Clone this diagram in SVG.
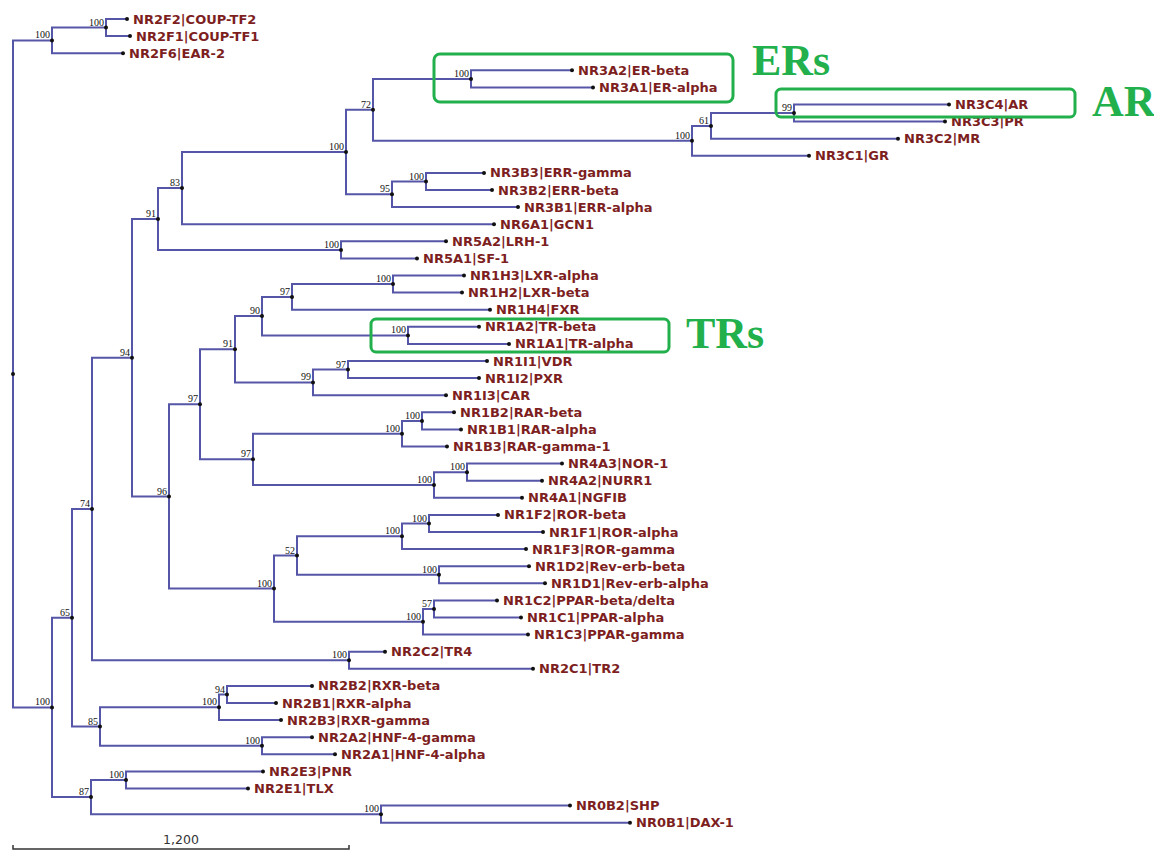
<svg xmlns="http://www.w3.org/2000/svg" width="1154" height="852" viewBox="0 0 1154 852">
<style>
.br{fill:none;stroke:#5656a8;stroke-width:2}
.dot{fill:#111}
.lf{font-family:"DejaVu Sans",sans-serif;font-weight:bold;font-size:13px;fill:#7d1f1f}
.bs{font-family:"Liberation Serif",serif;font-size:10px;fill:#111;text-anchor:end}
.box{fill:none;stroke:#22b04c;stroke-width:3}
.big{font-family:"Liberation Serif",serif;font-weight:bold;font-size:44px;fill:#22b04c}
.scale{fill:none;stroke:#333;stroke-width:1.5}
.sc{font-family:"DejaVu Sans",sans-serif;font-size:12.5px;fill:#333;text-anchor:middle}
</style>
<rect width="1154" height="852" fill="#fff"/>
<g id="connectors" class="br">
<path d="M127,19 H106 V36.1 H130"/>
<path d="M106,27.6 H52 V53.2 H123"/>
<path d="M572,70.3 H471 V87.4 H593"/>
<path d="M949,104.5 H794 V121.6 H945"/>
<path d="M794,113.1 H711 V138.7 H898"/>
<path d="M711,125.9 H692 V155.8 H809"/>
<path d="M471,78.9 H373 V140.8 H692"/>
<path d="M484,172.9 H426 V190 H492"/>
<path d="M426,181.5 H392 V207.1 H518"/>
<path d="M373,109.8 H346 V194.3 H392"/>
<path d="M346,152.1 H182 V224.2 H494"/>
<path d="M446,241.3 H341 V258.4 H417"/>
<path d="M182,188.1 H158 V249.9 H341"/>
<path d="M464,275.5 H393 V292.6 H462"/>
<path d="M393,284.1 H292 V309.7 H490"/>
<path d="M479,326.8 H408 V343.9 H509"/>
<path d="M292,296.9 H262 V335.4 H408"/>
<path d="M487,361 H348 V378.1 H479"/>
<path d="M348,369.6 H313 V395.2 H446"/>
<path d="M262,316.1 H235 V382.4 H313"/>
<path d="M454,412.3 H422 V429.4 H461"/>
<path d="M422,420.9 H402 V446.5 H447"/>
<path d="M562,463.6 H467 V480.7 H542"/>
<path d="M467,472.2 H434 V497.8 H522"/>
<path d="M402,433.7 H253 V485 H434"/>
<path d="M235,349.2 H200 V459.3 H253"/>
<path d="M498,514.9 H429 V532 H543"/>
<path d="M429,523.5 H402 V549.1 H526"/>
<path d="M529,566.2 H439 V583.3 H545"/>
<path d="M402,536.3 H297 V574.8 H439"/>
<path d="M497,600.4 H434 V617.5 H521"/>
<path d="M434,609 H423 V634.6 H528"/>
<path d="M297,555.5 H274 V621.8 H423"/>
<path d="M200,404.3 H169 V588.6 H274"/>
<path d="M158,219 H132 V496.5 H169"/>
<path d="M385,651.7 H349 V668.8 H533"/>
<path d="M132,357.7 H92 V660.3 H349"/>
<path d="M312,685.9 H227 V703 H276"/>
<path d="M227,694.5 H219 V720.1 H281"/>
<path d="M312,737.2 H262 V754.3 H335"/>
<path d="M219,707.3 H100 V745.8 H262"/>
<path d="M92,509 H72 V726.5 H100"/>
<path d="M263,771.4 H126 V788.5 H248"/>
<path d="M570,805.6 H381 V822.7 H630"/>
<path d="M126,780 H91 V814.2 H381"/>
<path d="M72,617.8 H52 V797.1 H91"/>
<path d="M52,40.4 H13 V707.4 H52"/>
</g>
<g id="internal-nodes">
<g id="root"><circle class="dot" cx="13" cy="373.9" r="2"/></g>
<g id="n-F21"><circle class="dot" cx="106" cy="27.6" r="2"/><text class="bs" x="104" y="25.6">100</text></g>
<g id="n-F"><circle class="dot" cx="52" cy="40.4" r="2"/><text class="bs" x="50" y="38.4">100</text></g>
<g id="n-ER"><circle class="dot" cx="471" cy="78.9" r="2"/><text class="bs" x="469" y="76.9">100</text></g>
<g id="n-C99"><circle class="dot" cx="794" cy="113.1" r="2"/><text class="bs" x="792" y="111.1">99</text></g>
<g id="n-C61"><circle class="dot" cx="711" cy="125.9" r="2"/><text class="bs" x="709" y="123.9">61</text></g>
<g id="n-C"><circle class="dot" cx="692" cy="140.8" r="2"/><text class="bs" x="690" y="138.8">100</text></g>
<g id="n-72"><circle class="dot" cx="373" cy="109.8" r="2"/><text class="bs" x="371" y="107.8">72</text></g>
<g id="n-ERR"><circle class="dot" cx="426" cy="181.5" r="2"/><text class="bs" x="424" y="179.5">100</text></g>
<g id="n-95"><circle class="dot" cx="392" cy="194.3" r="2"/><text class="bs" x="390" y="192.3">95</text></g>
<g id="n-NR3"><circle class="dot" cx="346" cy="152.1" r="2"/><text class="bs" x="344" y="150.1">100</text></g>
<g id="n-83"><circle class="dot" cx="182" cy="188.1" r="2"/><text class="bs" x="180" y="186.1">83</text></g>
<g id="n-NR5A"><circle class="dot" cx="341" cy="249.9" r="2"/><text class="bs" x="339" y="247.9">100</text></g>
<g id="n-91"><circle class="dot" cx="158" cy="219" r="2"/><text class="bs" x="156" y="217">91</text></g>
<g id="n-LXR"><circle class="dot" cx="393" cy="284.1" r="2"/><text class="bs" x="391" y="282.1">100</text></g>
<g id="n-97c"><circle class="dot" cx="292" cy="296.9" r="2"/><text class="bs" x="290" y="294.9">97</text></g>
<g id="n-TR"><circle class="dot" cx="408" cy="335.4" r="2"/><text class="bs" x="406" y="333.4">100</text></g>
<g id="n-90"><circle class="dot" cx="262" cy="316.1" r="2"/><text class="bs" x="260" y="314.1">90</text></g>
<g id="n-97d"><circle class="dot" cx="348" cy="369.6" r="2"/><text class="bs" x="346" y="367.6">97</text></g>
<g id="n-99b"><circle class="dot" cx="313" cy="382.4" r="2"/><text class="bs" x="311" y="380.4">99</text></g>
<g id="n-91b"><circle class="dot" cx="235" cy="349.2" r="2"/><text class="bs" x="233" y="347.2">91</text></g>
<g id="n-RARba"><circle class="dot" cx="422" cy="420.9" r="2"/><text class="bs" x="420" y="418.9">100</text></g>
<g id="n-RAR"><circle class="dot" cx="402" cy="433.7" r="2"/><text class="bs" x="400" y="431.7">100</text></g>
<g id="n-NR4A32"><circle class="dot" cx="467" cy="472.2" r="2"/><text class="bs" x="465" y="470.2">100</text></g>
<g id="n-NR4A"><circle class="dot" cx="434" cy="485" r="2"/><text class="bs" x="432" y="483">100</text></g>
<g id="n-97b"><circle class="dot" cx="253" cy="459.3" r="2"/><text class="bs" x="251" y="457.3">97</text></g>
<g id="n-97a"><circle class="dot" cx="200" cy="404.3" r="2"/><text class="bs" x="198" y="402.3">97</text></g>
<g id="n-RORba"><circle class="dot" cx="429" cy="523.5" r="2"/><text class="bs" x="427" y="521.5">100</text></g>
<g id="n-ROR"><circle class="dot" cx="402" cy="536.3" r="2"/><text class="bs" x="400" y="534.3">100</text></g>
<g id="n-Rev"><circle class="dot" cx="439" cy="574.8" r="2"/><text class="bs" x="437" y="572.8">100</text></g>
<g id="n-52"><circle class="dot" cx="297" cy="555.5" r="2"/><text class="bs" x="295" y="553.5">52</text></g>
<g id="n-57"><circle class="dot" cx="434" cy="609" r="2"/><text class="bs" x="432" y="607">57</text></g>
<g id="n-PPAR"><circle class="dot" cx="423" cy="621.8" r="2"/><text class="bs" x="421" y="619.8">100</text></g>
<g id="n-100c"><circle class="dot" cx="274" cy="588.6" r="2"/><text class="bs" x="272" y="586.6">100</text></g>
<g id="n-96"><circle class="dot" cx="169" cy="496.5" r="2"/><text class="bs" x="167" y="494.5">96</text></g>
<g id="n-94"><circle class="dot" cx="132" cy="357.7" r="2"/><text class="bs" x="130" y="355.7">94</text></g>
<g id="n-NR2C"><circle class="dot" cx="349" cy="660.3" r="2"/><text class="bs" x="347" y="658.3">100</text></g>
<g id="n-74"><circle class="dot" cx="92" cy="509" r="2"/><text class="bs" x="90" y="507">74</text></g>
<g id="n-94b"><circle class="dot" cx="227" cy="694.5" r="2"/><text class="bs" x="225" y="692.5">94</text></g>
<g id="n-RXR"><circle class="dot" cx="219" cy="707.3" r="2"/><text class="bs" x="217" y="705.3">100</text></g>
<g id="n-HNF"><circle class="dot" cx="262" cy="745.8" r="2"/><text class="bs" x="260" y="743.8">100</text></g>
<g id="n-85"><circle class="dot" cx="100" cy="726.5" r="2"/><text class="bs" x="98" y="724.5">85</text></g>
<g id="n-65"><circle class="dot" cx="72" cy="617.8" r="2"/><text class="bs" x="70" y="615.8">65</text></g>
<g id="n-NR2E"><circle class="dot" cx="126" cy="780" r="2"/><text class="bs" x="124" y="778">100</text></g>
<g id="n-NR0B"><circle class="dot" cx="381" cy="814.2" r="2"/><text class="bs" x="379" y="812.2">100</text></g>
<g id="n-87"><circle class="dot" cx="91" cy="797.1" r="2"/><text class="bs" x="89" y="795.1">87</text></g>
<g id="n-B100"><circle class="dot" cx="52" cy="707.4" r="2"/><text class="bs" x="50" y="705.4">100</text></g>
</g>
<g id="leaves">
<g id="NR2F2"><circle class="dot" cx="127" cy="19" r="2"/><text class="lf" x="133" y="23.5">NR2F2|COUP-TF2</text></g>
<g id="NR2F1"><circle class="dot" cx="130" cy="36.1" r="2"/><text class="lf" x="136" y="40.6">NR2F1|COUP-TF1</text></g>
<g id="NR2F6"><circle class="dot" cx="123" cy="53.2" r="2"/><text class="lf" x="129" y="57.7">NR2F6|EAR-2</text></g>
<g id="NR3A2"><circle class="dot" cx="572" cy="70.3" r="2"/><text class="lf" x="578" y="74.8">NR3A2|ER-beta</text></g>
<g id="NR3A1"><circle class="dot" cx="593" cy="87.4" r="2"/><text class="lf" x="599" y="91.9">NR3A1|ER-alpha</text></g>
<g id="NR3C4"><circle class="dot" cx="949" cy="104.5" r="2"/><text class="lf" x="955" y="109">NR3C4|AR</text></g>
<g id="NR3C3"><circle class="dot" cx="945" cy="121.6" r="2"/><text class="lf" x="951" y="126.1">NR3C3|PR</text></g>
<g id="NR3C2"><circle class="dot" cx="898" cy="138.7" r="2"/><text class="lf" x="904" y="143.2">NR3C2|MR</text></g>
<g id="NR3C1"><circle class="dot" cx="809" cy="155.8" r="2"/><text class="lf" x="815" y="160.3">NR3C1|GR</text></g>
<g id="NR3B3"><circle class="dot" cx="484" cy="172.9" r="2"/><text class="lf" x="490" y="177.4">NR3B3|ERR-gamma</text></g>
<g id="NR3B2"><circle class="dot" cx="492" cy="190" r="2"/><text class="lf" x="498" y="194.5">NR3B2|ERR-beta</text></g>
<g id="NR3B1"><circle class="dot" cx="518" cy="207.1" r="2"/><text class="lf" x="524" y="211.6">NR3B1|ERR-alpha</text></g>
<g id="NR6A1"><circle class="dot" cx="494" cy="224.2" r="2"/><text class="lf" x="500" y="228.7">NR6A1|GCN1</text></g>
<g id="NR5A2"><circle class="dot" cx="446" cy="241.3" r="2"/><text class="lf" x="452" y="245.8">NR5A2|LRH-1</text></g>
<g id="NR5A1"><circle class="dot" cx="417" cy="258.4" r="2"/><text class="lf" x="423" y="262.9">NR5A1|SF-1</text></g>
<g id="NR1H3"><circle class="dot" cx="464" cy="275.5" r="2"/><text class="lf" x="470" y="280">NR1H3|LXR-alpha</text></g>
<g id="NR1H2"><circle class="dot" cx="462" cy="292.6" r="2"/><text class="lf" x="468" y="297.1">NR1H2|LXR-beta</text></g>
<g id="NR1H4"><circle class="dot" cx="490" cy="309.7" r="2"/><text class="lf" x="496" y="314.2">NR1H4|FXR</text></g>
<g id="NR1A2"><circle class="dot" cx="479" cy="326.8" r="2"/><text class="lf" x="485" y="331.3">NR1A2|TR-beta</text></g>
<g id="NR1A1"><circle class="dot" cx="509" cy="343.9" r="2"/><text class="lf" x="515" y="348.4">NR1A1|TR-alpha</text></g>
<g id="NR1I1"><circle class="dot" cx="487" cy="361" r="2"/><text class="lf" x="493" y="365.5">NR1I1|VDR</text></g>
<g id="NR1I2"><circle class="dot" cx="479" cy="378.1" r="2"/><text class="lf" x="485" y="382.6">NR1I2|PXR</text></g>
<g id="NR1I3"><circle class="dot" cx="446" cy="395.2" r="2"/><text class="lf" x="452" y="399.7">NR1I3|CAR</text></g>
<g id="NR1B2"><circle class="dot" cx="454" cy="412.3" r="2"/><text class="lf" x="460" y="416.8">NR1B2|RAR-beta</text></g>
<g id="NR1B1"><circle class="dot" cx="461" cy="429.4" r="2"/><text class="lf" x="467" y="433.9">NR1B1|RAR-alpha</text></g>
<g id="NR1B3"><circle class="dot" cx="447" cy="446.5" r="2"/><text class="lf" x="453" y="451">NR1B3|RAR-gamma-1</text></g>
<g id="NR4A3"><circle class="dot" cx="562" cy="463.6" r="2"/><text class="lf" x="568" y="468.1">NR4A3|NOR-1</text></g>
<g id="NR4A2"><circle class="dot" cx="542" cy="480.7" r="2"/><text class="lf" x="548" y="485.2">NR4A2|NURR1</text></g>
<g id="NR4A1"><circle class="dot" cx="522" cy="497.8" r="2"/><text class="lf" x="528" y="502.3">NR4A1|NGFIB</text></g>
<g id="NR1F2"><circle class="dot" cx="498" cy="514.9" r="2"/><text class="lf" x="504" y="519.4">NR1F2|ROR-beta</text></g>
<g id="NR1F1"><circle class="dot" cx="543" cy="532" r="2"/><text class="lf" x="549" y="536.5">NR1F1|ROR-alpha</text></g>
<g id="NR1F3"><circle class="dot" cx="526" cy="549.1" r="2"/><text class="lf" x="532" y="553.6">NR1F3|ROR-gamma</text></g>
<g id="NR1D2"><circle class="dot" cx="529" cy="566.2" r="2"/><text class="lf" x="535" y="570.7">NR1D2|Rev-erb-beta</text></g>
<g id="NR1D1"><circle class="dot" cx="545" cy="583.3" r="2"/><text class="lf" x="551" y="587.8">NR1D1|Rev-erb-alpha</text></g>
<g id="NR1C2"><circle class="dot" cx="497" cy="600.4" r="2"/><text class="lf" x="503" y="604.9">NR1C2|PPAR-beta/delta</text></g>
<g id="NR1C1"><circle class="dot" cx="521" cy="617.5" r="2"/><text class="lf" x="527" y="622">NR1C1|PPAR-alpha</text></g>
<g id="NR1C3"><circle class="dot" cx="528" cy="634.6" r="2"/><text class="lf" x="534" y="639.1">NR1C3|PPAR-gamma</text></g>
<g id="NR2C2"><circle class="dot" cx="385" cy="651.7" r="2"/><text class="lf" x="391" y="656.2">NR2C2|TR4</text></g>
<g id="NR2C1"><circle class="dot" cx="533" cy="668.8" r="2"/><text class="lf" x="539" y="673.3">NR2C1|TR2</text></g>
<g id="NR2B2"><circle class="dot" cx="312" cy="685.9" r="2"/><text class="lf" x="318" y="690.4">NR2B2|RXR-beta</text></g>
<g id="NR2B1"><circle class="dot" cx="276" cy="703" r="2"/><text class="lf" x="282" y="707.5">NR2B1|RXR-alpha</text></g>
<g id="NR2B3"><circle class="dot" cx="281" cy="720.1" r="2"/><text class="lf" x="287" y="724.6">NR2B3|RXR-gamma</text></g>
<g id="NR2A2"><circle class="dot" cx="312" cy="737.2" r="2"/><text class="lf" x="318" y="741.7">NR2A2|HNF-4-gamma</text></g>
<g id="NR2A1"><circle class="dot" cx="335" cy="754.3" r="2"/><text class="lf" x="341" y="758.8">NR2A1|HNF-4-alpha</text></g>
<g id="NR2E3"><circle class="dot" cx="263" cy="771.4" r="2"/><text class="lf" x="269" y="775.9">NR2E3|PNR</text></g>
<g id="NR2E1"><circle class="dot" cx="248" cy="788.5" r="2"/><text class="lf" x="254" y="793">NR2E1|TLX</text></g>
<g id="NR0B2"><circle class="dot" cx="570" cy="805.6" r="2"/><text class="lf" x="576" y="810.1">NR0B2|SHP</text></g>
<g id="NR0B1"><circle class="dot" cx="630" cy="822.7" r="2"/><text class="lf" x="636" y="827.2">NR0B1|DAX-1</text></g>
</g>
<g id="highlight-ERs"><rect class="box" x="434" y="54" width="299" height="48" rx="6"/><text class="big" x="752" y="75">ERs</text></g>
<g id="highlight-AR"><rect class="box" x="776" y="89" width="299" height="28" rx="5"/><text class="big" x="1092" y="116">AR</text></g>
<g id="highlight-TRs"><rect class="box" x="371" y="319" width="298" height="33" rx="5"/><text class="big" x="686" y="348">TRs</text></g>
<g id="scale-bar"><path class="scale" d="M13,845 V849 H349 V845"/><text class="sc" x="181" y="844">1,200</text></g>
</svg>
